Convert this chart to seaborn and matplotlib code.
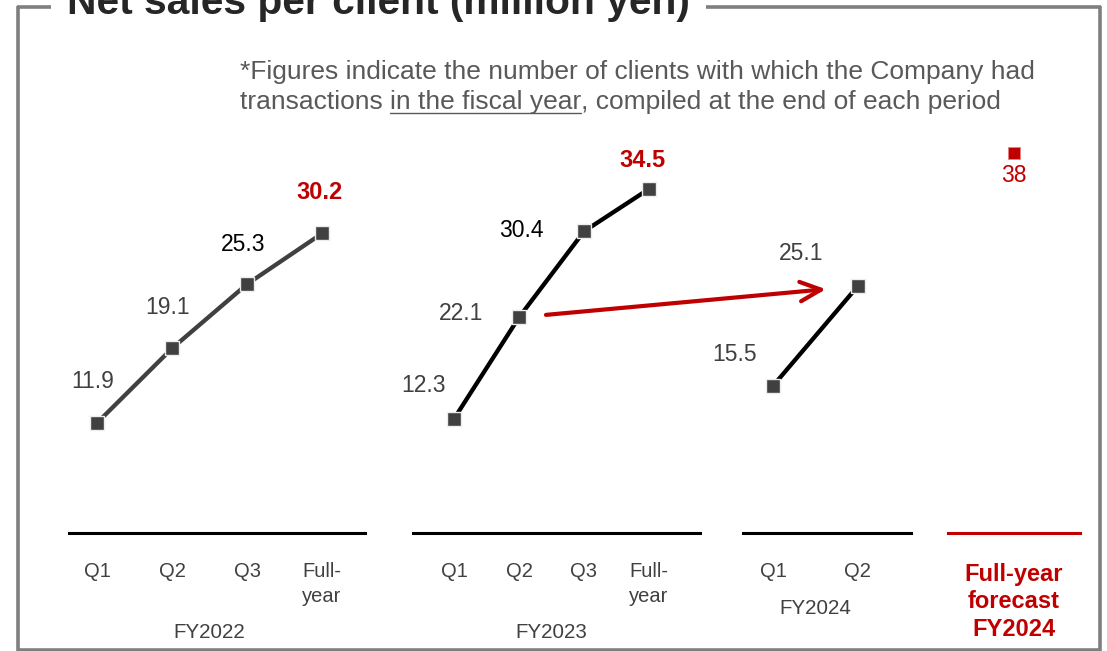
import matplotlib
matplotlib.use("Agg")
import matplotlib.pyplot as plt
import seaborn as sns
import pandas as pd
from matplotlib.lines import Line2D

# ---- data ----------------------------------------------------------------
fy2022_periods = ["Q1", "Q2", "Q3", "Full-\nyear"]
fy2022_sales = [11.9, 19.1, 25.3, 30.2]

fy2023_periods = ["Q1", "Q2", "Q3", "Full-\nyear"]
fy2023_sales = [12.3, 22.1, 30.4, 34.5]

fy2024_periods = ["Q1", "Q2"]
fy2024_sales = [15.5, 25.1]

forecast_periods = ["Full-year\nforecast\nFY2024"]
forecast_sales = [38]

group_names = ["FY2022", "FY2023", "FY2024"]

title_text = "Net sales per client (million yen)"
note_line1 = "*Figures indicate the number of clients with which the Company had"
note_line2 = ["transactions ", "in the fiscal year", ", compiled at the end of each period"]

# ---- style ---------------------------------------------------------------
RED = "#C00000"
DARK = "#404040"
NOTE = "#595959"
FRAME = "#7F7F7F"
NOTE_SIZE = 19

sns.set_theme(style="white")
plt.rcParams["font.family"] = ["Liberation Sans", "DejaVu Sans"]

W, H = 1107, 651
fig = plt.figure(figsize=(W / 100, H / 100), dpi=100)
fig.patch.set_facecolor("white")

AX_TOP, AX_BOTTOM = 100, 533
Y_LIM = (1.275, 43.09)


def fx(x):
    return x / W


def fy(y):
    return 1 - y / H


def make_axes(left, right):
    ax = fig.add_axes([fx(left), fy(AX_BOTTOM), (right - left) / W,
                       (AX_BOTTOM - AX_TOP) / H])
    ax.set_facecolor("none")
    return ax


def style_axes(ax, periods, xlim, axis_color, tick_color, tick_size,
               tick_weight="normal", pad=20.8, spacing=1.4):
    ax.set_xlim(*xlim)
    ax.set_ylim(*Y_LIM)
    for side in ("top", "left", "right"):
        ax.spines[side].set_visible(False)
    ax.spines["bottom"].set_color(axis_color)
    ax.spines["bottom"].set_linewidth(2.2)
    ax.set_yticks([])
    ax.set_xticks(range(len(periods)))
    ax.set_xticklabels(periods, fontsize=tick_size, color=tick_color,
                       fontweight=tick_weight, linespacing=spacing)
    ax.tick_params(axis="x", length=0, pad=pad)
    ax.set_xlabel("")
    ax.set_ylabel("")


def draw_series(ax, values, line_color):
    df = pd.DataFrame({"pos": range(len(values)), "sales": values})
    sns.lineplot(data=df, x="pos", y="sales", ax=ax, color=line_color,
                 lw=3.1, marker="s", markersize=10.5, markerfacecolor=DARK,
                 markeredgecolor="#EDEDED", markeredgewidth=1.0,
                 legend=False, zorder=3)


def value_labels(ax, values, offsets, colors, weights, sizes):
    for i, (v, (dx, dy), c, w, s) in enumerate(zip(values, offsets, colors,
                                                    weights, sizes)):
        ax.annotate(f"{v:g}", xy=(i, v), xytext=(dx, dy),
                    textcoords="offset pixels", ha="center", va="center",
                    color=c, fontweight=w, fontsize=s, annotation_clip=False)


def group_label(ax, n, text, drop):
    ax.annotate(text, xy=((n - 1) / 2, 0), xycoords=("data", "axes fraction"),
                xytext=(0, -drop), textcoords="offset pixels", ha="center",
                va="center", fontsize=14.8, color=DARK,
                annotation_clip=False)


# ---- FY2022 --------------------------------------------------------------
ax22 = make_axes(69, 365)
draw_series(ax22, fy2022_sales, DARK)
style_axes(ax22, fy2022_periods, (-0.373, 3.573), "black", DARK, 14.5)
value_labels(ax22, fy2022_sales,
             [(-4, 41), (-4, 41), (-4, 40), (-2, 41)],
             [DARK, DARK, "black", RED],
             ["normal", "normal", "normal", "bold"],
             [16.5, 16.5, 16.5, 17])
group_label(ax22, len(fy2022_sales), group_names[0], 100)

# ---- FY2023 --------------------------------------------------------------
ax23 = make_axes(413, 700)
draw_series(ax23, fy2023_sales, "black")
style_axes(ax23, fy2023_periods, (-0.631, 3.785), "black", DARK, 14.5)
value_labels(ax23, fy2023_sales,
             [(-31, 33), (-58, 4), (-63, 1), (-6, 28)],
             [DARK, DARK, "black", RED],
             ["normal", "normal", "normal", "bold"],
             [16.5, 16.5, 16.5, 17])
group_label(ax23, len(fy2023_sales), group_names[1], 99)

# ---- FY2024 (first half) -------------------------------------------------
ax24 = make_axes(743, 911)
draw_series(ax24, fy2024_sales, "black")
style_axes(ax24, fy2024_periods, (-0.357, 1.631), "black", DARK, 14.5)
value_labels(ax24, fy2024_sales,
             [(-39, 31), (-57, 33)],
             [DARK, DARK],
             ["normal", "normal"],
             [16.5, 16.5])
group_label(ax24, len(fy2024_sales), group_names[2], 75)

# ---- FY2024 full-year forecast -------------------------------------------
axf = make_axes(948, 1080)
sns.scatterplot(x=list(range(len(forecast_sales))), y=forecast_sales, ax=axf,
                color=RED, marker="s", s=70, edgecolor="#E88080",
                linewidth=0.6, legend=False, zorder=3)
style_axes(axf, forecast_periods, (-0.5, 0.5), RED, RED, 17,
           tick_weight="bold", pad=21.3, spacing=1.27)
value_labels(axf, forecast_sales, [(0, -23)], [RED], ["normal"], [16.5])

# ---- growth arrow: FY2023 Q2 -> FY2024 Q2 --------------------------------
ax23.annotate("", xy=(1, fy2024_sales[1]), xycoords=ax24.transData,
              xytext=(1, fy2023_sales[1]), textcoords=ax23.transData,
              arrowprops=dict(arrowstyle="->,head_length=15,head_width=7",
                              mutation_scale=1, lw=3, color=RED,
                              shrinkA=19.5, shrinkB=23),
              annotation_clip=False, zorder=5)

# ---- frame and title -----------------------------------------------------
frame_kw = dict(color=FRAME, lw=2.6, solid_capstyle="butt",
                transform=fig.transFigure)
fig.add_artist(Line2D([fx(16.5), fx(51)], [fy(6.8), fy(6.8)], **frame_kw))
fig.add_artist(Line2D([fx(706), fx(1101)], [fy(6.8), fy(6.8)], **frame_kw))
fig.add_artist(Line2D([fx(18.3), fx(18.3)], [fy(5.5), fy(651)], **frame_kw))
fig.add_artist(Line2D([fx(1099.5), fx(1099.5)], [fy(5.5), fy(651)], **frame_kw))
fig.add_artist(Line2D([fx(16.5), fx(1101)], [fy(650), fy(650)], **frame_kw))

fig.text(fx(67), fy(14), title_text, fontsize=29.3, fontweight="bold",
         color="#262626", ha="left", va="baseline")

# ---- note with underlined phrase -----------------------------------------
fig.text(fx(240), fy(72), note_line1, fontsize=NOTE_SIZE, color=NOTE,
         ha="left", va="center")
overlay = fig.add_axes([0, 0, 1, 1])
overlay.set_axis_off()
overlay.set_facecolor("none")
t_a = overlay.text(fx(240), fy(102), note_line2[0], fontsize=NOTE_SIZE,
                   color=NOTE, ha="left", va="center",
                   transform=fig.transFigure)
t_b = overlay.annotate(note_line2[1], xy=(1, 0), xycoords=t_a, ha="left",
                       va="bottom", fontsize=NOTE_SIZE, color=NOTE)
t_c = overlay.annotate(note_line2[2], xy=(1, 0), xycoords=t_b, ha="left",
                       va="bottom", fontsize=NOTE_SIZE, color=NOTE)

fig.canvas.draw()
bb = t_b.get_window_extent()
uy = bb.y0 + 0.06 * bb.height
fig.add_artist(Line2D([bb.x0 / W, bb.x1 / W], [uy / H, uy / H],
                      color=NOTE, lw=1.0, transform=fig.transFigure))

fig.savefig("out.png", dpi=100)
